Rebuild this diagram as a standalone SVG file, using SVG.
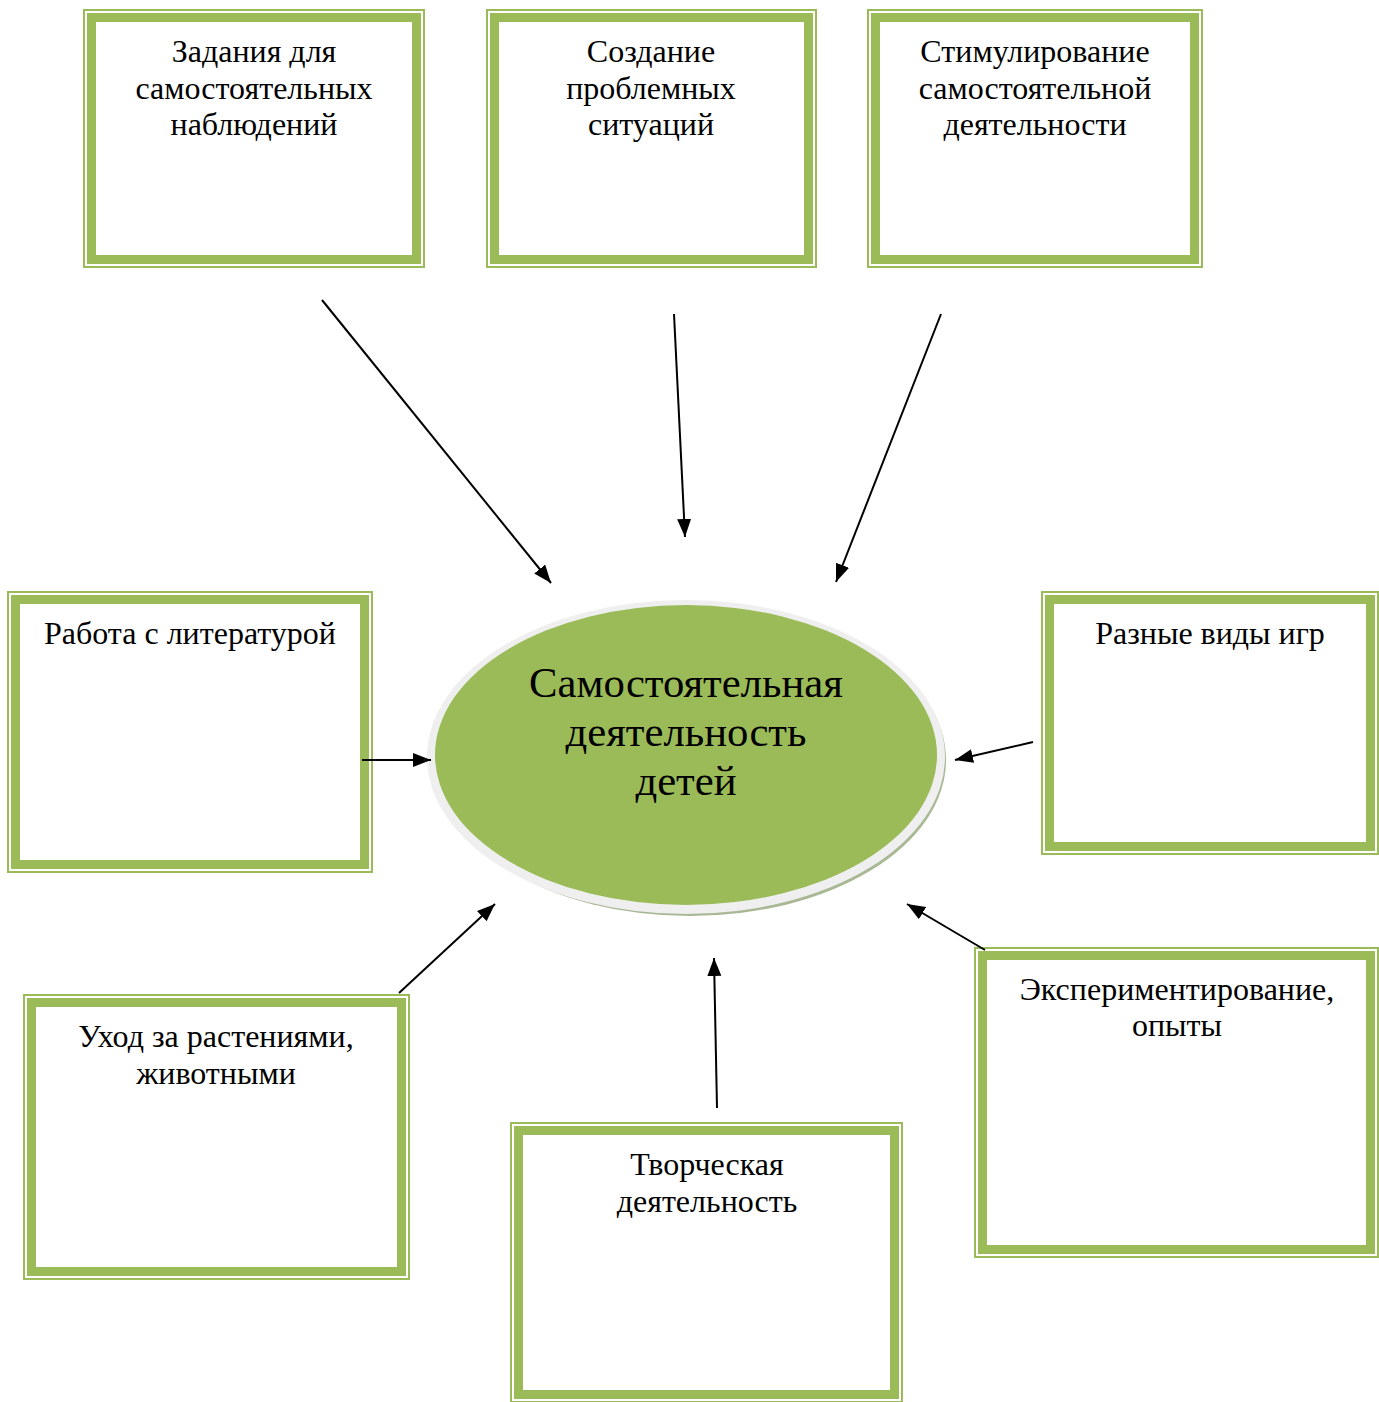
<svg xmlns="http://www.w3.org/2000/svg" width="1379" height="1402" viewBox="0 0 1379 1402">
<style>
.thin{fill:none;stroke:#9bbb59;stroke-width:2}
.thick{fill:#fff;stroke:#9bbb59;stroke-width:9}
.t{font-family:"Liberation Serif","Times New Roman",serif;font-size:32px;fill:#000;text-anchor:middle}
.big{font-family:"Liberation Serif","Times New Roman",serif;font-size:42.7px;fill:#000;text-anchor:middle}
.c{stroke:#000;stroke-width:2;fill:none;marker-end:url(#ah)}
</style>
<defs>
<marker id="ah" markerUnits="userSpaceOnUse" markerWidth="20" markerHeight="16" refX="18" refY="7" orient="auto" viewBox="0 0 20 14">
<path d="M0,0 L18,7 L0,14 Z" fill="#000"/>
</marker>
</defs>
<rect width="1379" height="1402" fill="#fff"/>
<g id="center">
<ellipse cx="690" cy="760" rx="256" ry="156" fill="#a9b894"/>
<ellipse cx="686" cy="757" rx="259" ry="157" fill="#efefef"/>
<ellipse cx="686" cy="755" rx="251" ry="150" fill="#9bbb59"/>
<text class="big" x="686" y="697">Самостоятельная</text>
<text class="big" x="686" y="746">деятельность</text>
<text class="big" x="686" y="795">детей</text>
</g>
<g id="box1">
<rect class="thin" x="84" y="10" width="340" height="257"/>
<rect class="thick" x="91.5" y="17.5" width="325" height="242"/>
<text class="t" x="254" y="62">Задания для</text>
<text class="t" x="254" y="99">самостоятельных</text>
<text class="t" x="254" y="135">наблюдений</text>
</g>
<g id="box2">
<rect class="thin" x="487" y="10" width="329" height="257"/>
<rect class="thick" x="494.5" y="17.5" width="314" height="242"/>
<text class="t" x="651" y="62">Создание</text>
<text class="t" x="651" y="99">проблемных</text>
<text class="t" x="651" y="135">ситуаций</text>
</g>
<g id="box3">
<rect class="thin" x="868" y="10" width="334" height="257"/>
<rect class="thick" x="875.5" y="17.5" width="319" height="242"/>
<text class="t" x="1035" y="62">Стимулирование</text>
<text class="t" x="1035" y="99">самостоятельной</text>
<text class="t" x="1035" y="135">деятельности</text>
</g>
<g id="box4">
<rect class="thin" x="8" y="592" width="364" height="280"/>
<rect class="thick" x="15.5" y="599.5" width="349" height="265"/>
<text class="t" x="190" y="644">Работа с литературой</text>
</g>
<g id="box5">
<rect class="thin" x="1042" y="592" width="336" height="262"/>
<rect class="thick" x="1049.5" y="599.5" width="321" height="247"/>
<text class="t" x="1210" y="644">Разные виды игр</text>
</g>
<g id="box6">
<rect class="thin" x="24" y="995" width="385" height="284"/>
<rect class="thick" x="31.5" y="1002.5" width="370" height="269"/>
<text class="t" x="216" y="1047">Уход за растениями,</text>
<text class="t" x="216" y="1084">животными</text>
</g>
<g id="box7">
<rect class="thin" x="511" y="1123" width="391" height="279"/>
<rect class="thick" x="518.5" y="1130.5" width="376" height="264"/>
<text class="t" x="707" y="1175">Творческая</text>
<text class="t" x="707" y="1212">деятельность</text>
</g>
<g id="box8">
<rect class="thin" x="975" y="948" width="403" height="309"/>
<rect class="thick" x="982.5" y="955.5" width="388" height="294"/>
<text class="t" x="1177" y="1000">Экспериментирование,</text>
<text class="t" x="1177" y="1036">опыты</text>
</g>
<g id="connectors">
<line class="c" x1="322" y1="300" x2="551" y2="583"/>
<line class="c" x1="674" y1="314" x2="685" y2="537"/>
<line class="c" x1="941" y1="314" x2="836" y2="582"/>
<line class="c" x1="362" y1="760" x2="431" y2="760"/>
<line class="c" x1="1033" y1="742" x2="955" y2="760"/>
<line class="c" x1="399" y1="993" x2="495" y2="904"/>
<line class="c" x1="717" y1="1108" x2="714" y2="958"/>
<line class="c" x1="985" y1="950" x2="907" y2="904"/>
</g>
</svg>
